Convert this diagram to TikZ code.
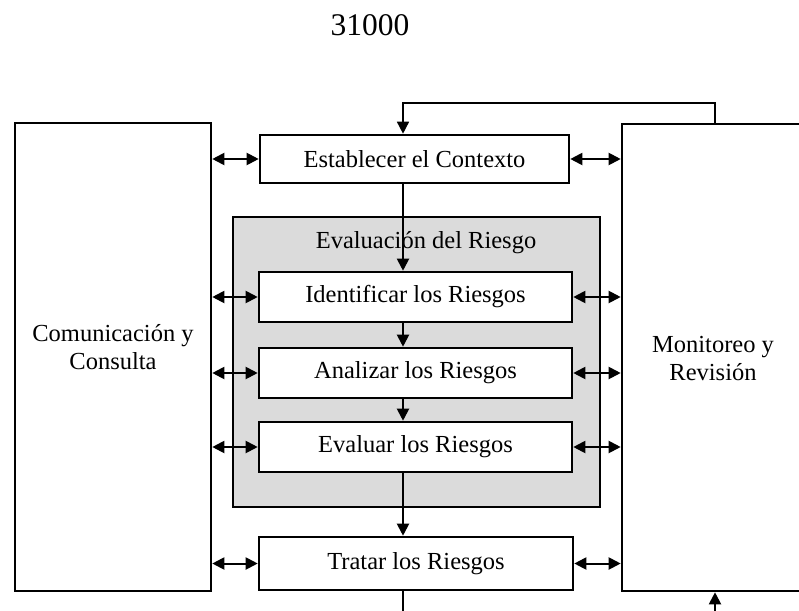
\documentclass[tikz,border=0pt]{standalone}
\usepackage{fontspec}
\setmainfont{Liberation Serif}
\usetikzlibrary{arrows.meta}
\begin{document}
\begin{tikzpicture}[x=1pt,y=-1pt,
  box/.style={draw, line width=2.6pt, fill=white, inner sep=0pt},
  stepbox/.style={box, minimum width=313pt, minimum height=50pt,
    font=\fontsize{24.5}{28}\selectfont},
  lbl/.style={font=\fontsize{24.5}{28}\selectfont, align=center},
  tip/.tip={Triangle[length=12pt,width=12pt]},
  link/.style={line width=2pt, -tip},
  dlink/.style={line width=2pt, tip-tip},
  fbline/.style={line width=1.5pt, -tip},
  ]
\useasboundingbox (0,0) rectangle (799,610);
\clip (0,0) rectangle (799,610);

% title
\node[font=\fontsize{31.5}{36}\selectfont] (title) at (370,25) {31000};

% side boxes
\node[box, minimum width=196pt, minimum height=468pt] (com) at (113,357) {};
\node[lbl] (comtxt) at (113,347) {Comunicación y\\Consulta};
\node[box, minimum width=190pt, minimum height=467pt] (mon) at (717,357.5) {};
\node[lbl] (montxt) at (713,359) {Monitoreo y\\Revisión};

% risk assessment group
\node[box, fill=black!14, minimum width=367pt, minimum height=290pt] (eval) at (416.5,362) {};
\node[lbl] (evaltxt) at (426,243) {Evaluación del Riesgo};

% process steps
\node[stepbox, minimum width=309pt, minimum height=48pt] (est) at (414.5,159) {Establecer el Contexto};
\node[stepbox] (idf) at (415.5,297) {Identificar los Riesgos};
\node[stepbox] (ana) at (415.5,373) {Analizar los Riesgos};
\node[stepbox] (eva) at (415.5,447) {Evaluar los Riesgos};
\node[stepbox, minimum width=314pt, minimum height=53pt] (tra) at (416,563.5) {Tratar los Riesgos};

% main flow
\coordinate (spine) at (403,0);
\draw[link] (est.south -| spine) -- (idf.north -| spine);
\draw[link] (idf.south -| spine) -- (ana.north -| spine);
\draw[link] (ana.south -| spine) -- (eva.north -| spine);
\draw[link] (eva.south -| spine) -- (tra.north -| spine);

% feedback loop
\coordinate (fb) at (715,103);
\coordinate (outl) at (403,615);
\coordinate (outr) at (715,615);
\draw[fbline] (mon.north -| fb) -- (fb) -| (est.north -| spine);
\draw[line width=1.8pt] (tra.south -| spine) -- (outl);
\draw[link] (outr) -- (mon.south -| fb);

% communication and monitoring links
\foreach \n in {est,idf,ana,eva,tra}{
  \draw[dlink] (com.east |- \n.west) -- (\n.west);
  \draw[dlink] (\n.east) -- (mon.west |- \n.east);
}
\end{tikzpicture}
\end{document}
